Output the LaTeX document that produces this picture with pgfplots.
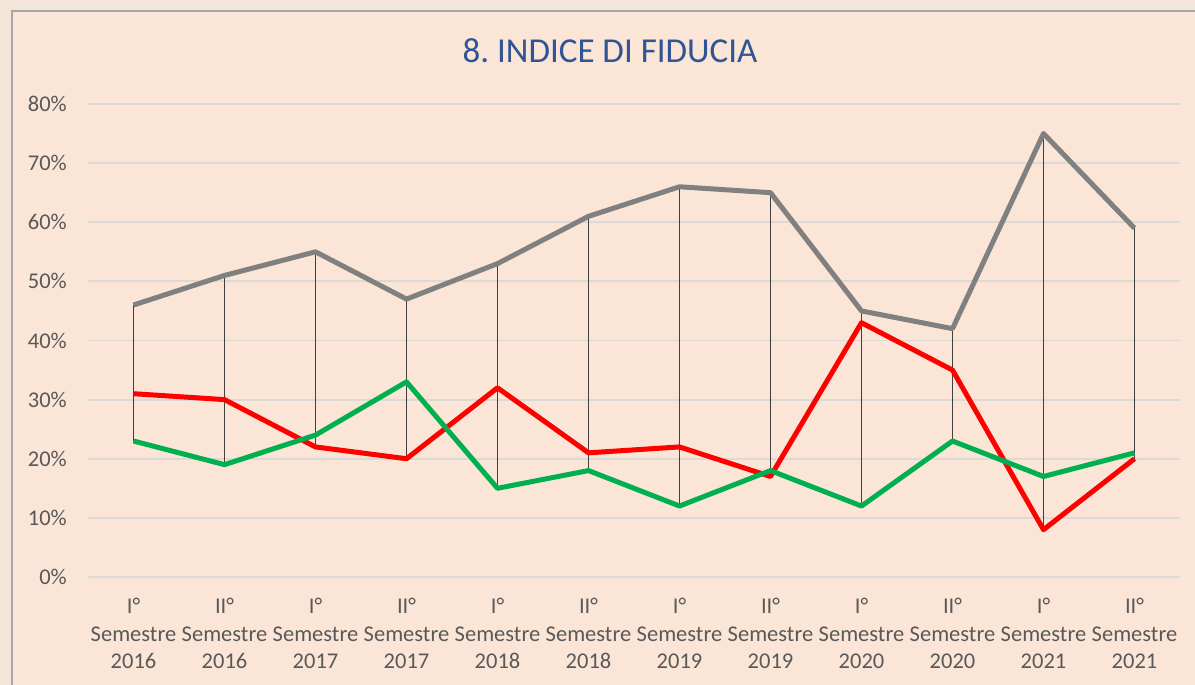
\documentclass[border=0pt]{standalone}
\usepackage{pgfplots}
\pgfplotsset{compat=1.18}
\usepackage{fontspec}
\setmainfont{Carlito}
\frenchspacing

\definecolor{bgouter}{HTML}{F3E6D8}
\definecolor{bgpeach}{HTML}{FBE5D6}
\definecolor{framec}{HTML}{A6A6A6}
\definecolor{gridc}{HTML}{DCDAD6}
\definecolor{labc}{HTML}{595959}
\definecolor{titlec}{HTML}{2F5597}
\definecolor{sergray}{HTML}{808080}
\definecolor{serred}{HTML}{FF0000}
\definecolor{sergreen}{HTML}{00B050}
\definecolor{hilo}{HTML}{404040}

\begin{document}
\begin{tikzpicture}[x=1pt,y=1pt]
\useasboundingbox (0,0) rectangle (1195,685);
\fill[bgouter] (0,0) rectangle (1195,685);
\filldraw[fill=bgpeach,draw=framec,line width=1.5pt] (12,-10) rectangle (1210,674);
\node[text=titlec, font=\fontsize{35}{40}\selectfont, anchor=base] at (610,622) {8.\ INDICE DI FIDUCIA};

\begin{axis}[
    at={(88pt,108pt)}, anchor=south west,
    scale only axis,
    width=1092pt, height=473pt,
    xmin=-0.5, xmax=11.5,
    ymin=0, ymax=80,
    ytick={0,10,...,80},
    yticklabel={\pgfmathprintnumber{\tick}\%},
    /pgf/number format/assume math mode=true,
    xtick={0,...,11},
    xticklabels={{I°\\Semestre\\2016},{II°\\Semestre\\2016},
                 {I°\\Semestre\\2017},{II°\\Semestre\\2017},
                 {I°\\Semestre\\2018},{II°\\Semestre\\2018},
                 {I°\\Semestre\\2019},{II°\\Semestre\\2019},
                 {I°\\Semestre\\2020},{II°\\Semestre\\2020},
                 {I°\\Semestre\\2021},{II°\\Semestre\\2021}},
    ymajorgrids=true,
    grid style={gridc, line width=1.8pt},
    axis line style={draw=none},
    major tick length=0pt,
    tick label style={text=labc, font=\fontsize{22.5}{27.5}\selectfont},
    xticklabel style={align=center, anchor=north, inner sep=0pt, yshift=-21pt},
    yticklabel style={anchor=east, inner sep=0pt, xshift=-21pt},
    unbounded coords=jump,
    clip=false,
]
% high-low lines
\addplot[hilo, line width=1.8pt] coordinates {
    (0,46) (0,23) (0,nan)
    (1,51) (1,19) (1,nan)
    (2,55) (2,22) (2,nan)
    (3,47) (3,20) (3,nan)
    (4,53) (4,15) (4,nan)
    (5,61) (5,18) (5,nan)
    (6,66) (6,12) (6,nan)
    (7,65) (7,17) (7,nan)
    (8,45) (8,12) (8,nan)
    (9,42) (9,23) (9,nan)
    (10,75) (10,8) (10,nan)
    (11,59) (11,20)
};
% gray
\addplot[sergray, line width=5pt, line join=round] coordinates {
    (0,46) (1,51) (2,55) (3,47) (4,53) (5,61)
    (6,66) (7,65) (8,45) (9,42) (10,75) (11,59)
};
% red
\addplot[serred, line width=5pt, line join=round] coordinates {
    (0,31) (1,30) (2,22) (3,20) (4,32) (5,21)
    (6,22) (7,17) (8,43) (9,35) (10,8) (11,20)
};
% green
\addplot[sergreen, line width=5pt, line join=round] coordinates {
    (0,23) (1,19) (2,24) (3,33) (4,15) (5,18)
    (6,12) (7,18) (8,12) (9,23) (10,17) (11,21)
};
\end{axis}
\end{tikzpicture}
\end{document}
